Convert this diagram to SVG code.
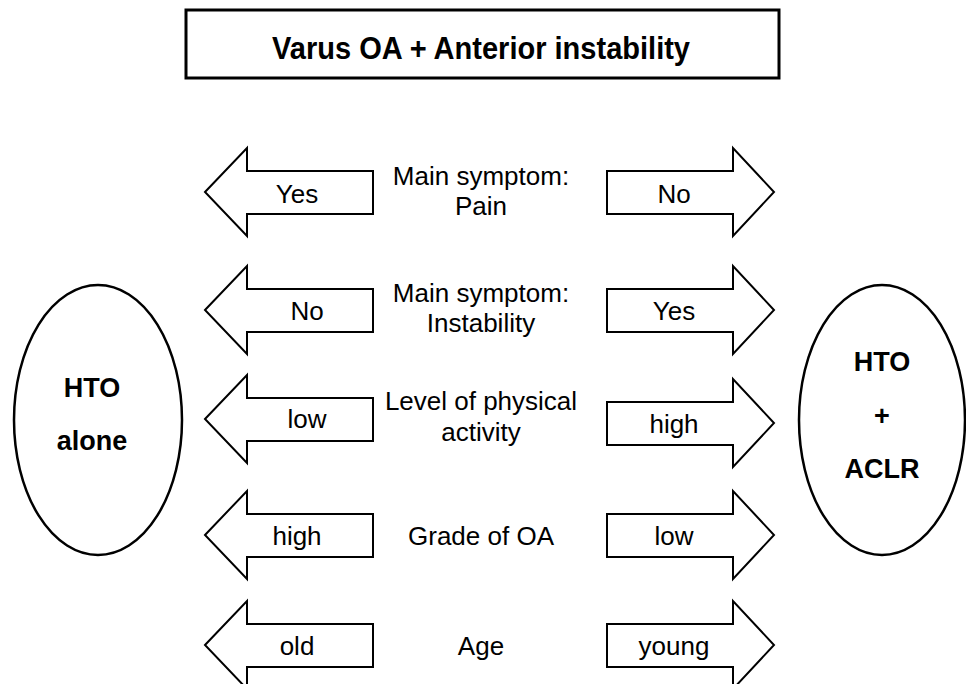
<svg xmlns="http://www.w3.org/2000/svg" xmlns:xlink="http://www.w3.org/1999/xlink" width="966" height="684" viewBox="0 0 966 684">
<style>
.shape{fill:#fff;stroke:#000;stroke-width:2;stroke-linejoin:miter}
.lbl{font-family:"Liberation Sans",Arial,sans-serif;font-size:26px;fill:#000;text-anchor:middle}
.bold{font-family:"Liberation Sans",Arial,sans-serif;font-weight:bold;font-size:27px;fill:#000;text-anchor:middle}
</style>
<defs>
<polygon id="larrow" points="205,0 247,-44 247,-21 373,-21 373,22 247,22 247,44"/>
<polygon id="rarrow" points="607,-21 733,-21 733,-44 774,0 733,44 733,22 607,22"/>
</defs>
<rect width="966" height="684" fill="#fff"/>
<g id="title">
<rect x="186" y="10" width="593" height="68" fill="#fff" stroke="#000" stroke-width="3"/>
<text x="481" y="59" font-family="'Liberation Sans',Arial,sans-serif" font-weight="bold" font-size="32" text-anchor="middle" textLength="418" lengthAdjust="spacingAndGlyphs">Varus OA + Anterior instability</text>
</g>
<g id="hto-alone">
<ellipse cx="98" cy="420" rx="84" ry="135" fill="#fff" stroke="#000" stroke-width="2.5"/>
<text class="bold" x="92" y="397">HTO</text>
<text class="bold" x="92" y="450">alone</text>
</g>
<g id="hto-aclr">
<ellipse cx="882" cy="420" rx="83" ry="135" fill="#fff" stroke="#000" stroke-width="2.5"/>
<text class="bold" x="882" y="371">HTO</text>
<text class="bold" x="882" y="425">+</text>
<text class="bold" x="882" y="478">ACLR</text>
</g>
<g id="criteria">
<g id="crit-pain"><text class="lbl" x="481" y="185">Main symptom:</text><text class="lbl" x="481" y="215">Pain</text></g>
<g id="crit-instability"><text class="lbl" x="481" y="302">Main symptom:</text><text class="lbl" x="481" y="332">Instability</text></g>
<g id="crit-activity"><text class="lbl" x="481" y="410">Level of physical</text><text class="lbl" x="481" y="441">activity</text></g>
<g id="crit-grade"><text class="lbl" x="481" y="545">Grade of OA</text></g>
<g id="crit-age"><text class="lbl" x="481" y="655">Age</text></g>
</g>
<g id="connectors">
<g id="arrow-l1"><use href="#larrow" xlink:href="#larrow" class="shape" transform="translate(0,192)"/><text class="lbl" x="297" y="203">Yes</text></g>
<g id="arrow-r1"><use href="#rarrow" xlink:href="#rarrow" class="shape" transform="translate(0,192)"/><text class="lbl" x="674" y="203">No</text></g>
<g id="arrow-l2"><use href="#larrow" xlink:href="#larrow" class="shape" transform="translate(0,310)"/><text class="lbl" x="307" y="320">No</text></g>
<g id="arrow-r2"><use href="#rarrow" xlink:href="#rarrow" class="shape" transform="translate(0,310)"/><text class="lbl" x="674" y="320">Yes</text></g>
<g id="arrow-l3"><use href="#larrow" xlink:href="#larrow" class="shape" transform="translate(0,419)"/><text class="lbl" x="307" y="428">low</text></g>
<g id="arrow-r3"><use href="#rarrow" xlink:href="#rarrow" class="shape" transform="translate(0,423)"/><text class="lbl" x="674" y="433">high</text></g>
<g id="arrow-l4"><use href="#larrow" xlink:href="#larrow" class="shape" transform="translate(0,535)"/><text class="lbl" x="297" y="545">high</text></g>
<g id="arrow-r4"><use href="#rarrow" xlink:href="#rarrow" class="shape" transform="translate(0,535)"/><text class="lbl" x="674" y="545">low</text></g>
<g id="arrow-l5"><use href="#larrow" xlink:href="#larrow" class="shape" transform="translate(0,645)"/><text class="lbl" x="297" y="655">old</text></g>
<g id="arrow-r5"><use href="#rarrow" xlink:href="#rarrow" class="shape" transform="translate(0,645)"/><text class="lbl" x="674" y="655">young</text></g>
</g>
</svg>
